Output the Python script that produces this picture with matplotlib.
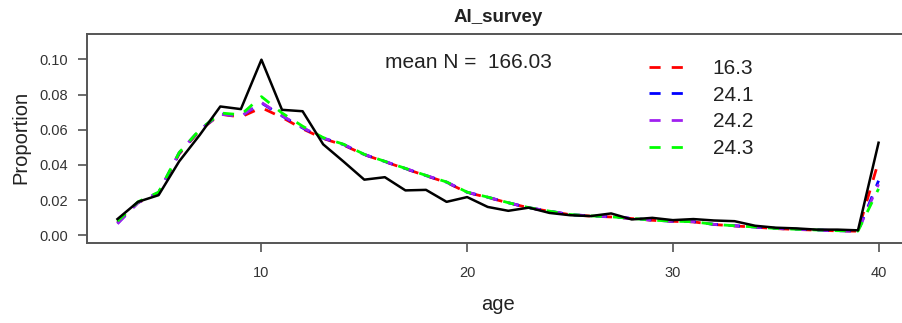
import numpy as np
import matplotlib
matplotlib.use('Agg')
import matplotlib.pyplot as plt

plt.rcParams['font.family'] = ['Liberation Sans', 'DejaVu Sans']

# ages and proportions
ages = list(range(3, 41))

observed = [0.0092, 0.0190, 0.0228, 0.0420, 0.0570, 0.0732, 0.0717, 0.0998,
            0.0713, 0.0705, 0.0517, 0.0418, 0.0316, 0.0330, 0.0255, 0.0258,
            0.0190, 0.0217, 0.0161, 0.0139, 0.0157, 0.0127, 0.0114, 0.0109,
            0.0124, 0.0090, 0.0099, 0.0086, 0.0092, 0.0084, 0.0080, 0.0054,
            0.0043, 0.0039, 0.0032, 0.0032, 0.0028, 0.0526]

exp_163 = [0.0072, 0.0185, 0.0240, 0.0462, 0.0595, 0.0688, 0.0672, 0.0725,
           0.0670, 0.0605, 0.0550, 0.0512, 0.0458, 0.0418, 0.0378, 0.0338,
           0.0300, 0.0243, 0.0215, 0.0184, 0.0156, 0.0136, 0.0117, 0.0109,
           0.0104, 0.0095, 0.0085, 0.0079, 0.0076, 0.0061, 0.0053, 0.0046,
           0.0038, 0.0033, 0.0029, 0.0025, 0.0023, 0.0420]

exp_241 = [0.0068, 0.0186, 0.0242, 0.0466, 0.0598, 0.0690, 0.0676, 0.0752,
           0.0678, 0.0610, 0.0552, 0.0515, 0.0459, 0.0419, 0.0379, 0.0339,
           0.0302, 0.0244, 0.0216, 0.0185, 0.0156, 0.0137, 0.0117, 0.0110,
           0.0105, 0.0096, 0.0086, 0.0080, 0.0077, 0.0062, 0.0054, 0.0047,
           0.0039, 0.0034, 0.0030, 0.0026, 0.0024, 0.0310]

exp_242 = [0.0065, 0.0186, 0.0243, 0.0470, 0.0600, 0.0688, 0.0676, 0.0755,
           0.0680, 0.0612, 0.0553, 0.0516, 0.0459, 0.0420, 0.0380, 0.0340,
           0.0302, 0.0245, 0.0216, 0.0185, 0.0157, 0.0137, 0.0118, 0.0110,
           0.0105, 0.0096, 0.0086, 0.0080, 0.0077, 0.0062, 0.0054, 0.0047,
           0.0039, 0.0034, 0.0030, 0.0026, 0.0024, 0.0290]

exp_243 = [0.0080, 0.0190, 0.0245, 0.0470, 0.0600, 0.0695, 0.0685, 0.0788,
           0.0695, 0.0620, 0.0555, 0.0517, 0.0460, 0.0420, 0.0380, 0.0340,
           0.0303, 0.0245, 0.0217, 0.0185, 0.0157, 0.0137, 0.0118, 0.0110,
           0.0105, 0.0096, 0.0086, 0.0080, 0.0077, 0.0062, 0.0054, 0.0047,
           0.0039, 0.0034, 0.0030, 0.0026, 0.0024, 0.0264]

labels = ['16.3', '24.1', '24.2', '24.3']
colors = ['#FF0000', '#0000FF', '#A020F0', '#00FF00']
mean_n = 166.03

fig = plt.figure(figsize=(9.02, 3.23), dpi=100)
W, H = 902, 323
ax = fig.add_axes([87 / W, 1 - 243 / H, 822 / W, 209 / H])

for vals, lab, c in zip([exp_163, exp_241, exp_242, exp_243], labels, colors):
    ax.plot(ages, vals, color=c, lw=2.0, linestyle=(0, (4, 4)), label=lab)
ax.plot(ages, observed, color='black', lw=1.8)

ax.set_xlim(1.52, 41.48)
ax.set_ylim(-0.0044, 0.1144)
ax.set_xticks([10, 20, 30, 40])
ax.set_yticks([0.0, 0.02, 0.04, 0.06, 0.08, 0.10])
ax.set_yticklabels(['0.00', '0.02', '0.04', '0.06', '0.08', '0.10'])

for s in ax.spines.values():
    s.set_color('#555555')
    s.set_linewidth(1.4)
ax.tick_params(direction='out', length=6.5, width=1.1, color='#444444',
               labelsize=10.5, labelcolor='#333333')
ax.tick_params(axis='x', pad=10)
ax.tick_params(axis='y', pad=7)

fig.text(498 / W, 1 - 17 / H, 'AI_survey', ha='center', va='center',
         fontsize=13.5, fontweight='bold', color='#222222')
fig.text(21 / W, 1 - 137 / H, 'Proportion', ha='center', va='center',
         rotation=90, fontsize=14.5, color='#222222')
fig.text(498 / W, 1 - 305 / H, 'age', ha='center', va='center',
         fontsize=14.5, color='#222222')
fig.text(468 / W, 1 - 62 / H, 'mean N =  {:.2f}'.format(mean_n), ha='center',
         va='center', fontsize=15, color='#222222')

ax.legend(loc='upper left', bbox_to_anchor=(649 / W, 1 - 59 / H),
          bbox_transform=fig.transFigure, frameon=False, fontsize=15,
          handlelength=1.75, handletextpad=1.3, labelspacing=0.37,
          borderpad=0, borderaxespad=0, labelcolor='#222222')

fig.savefig('out.png', dpi=100)
